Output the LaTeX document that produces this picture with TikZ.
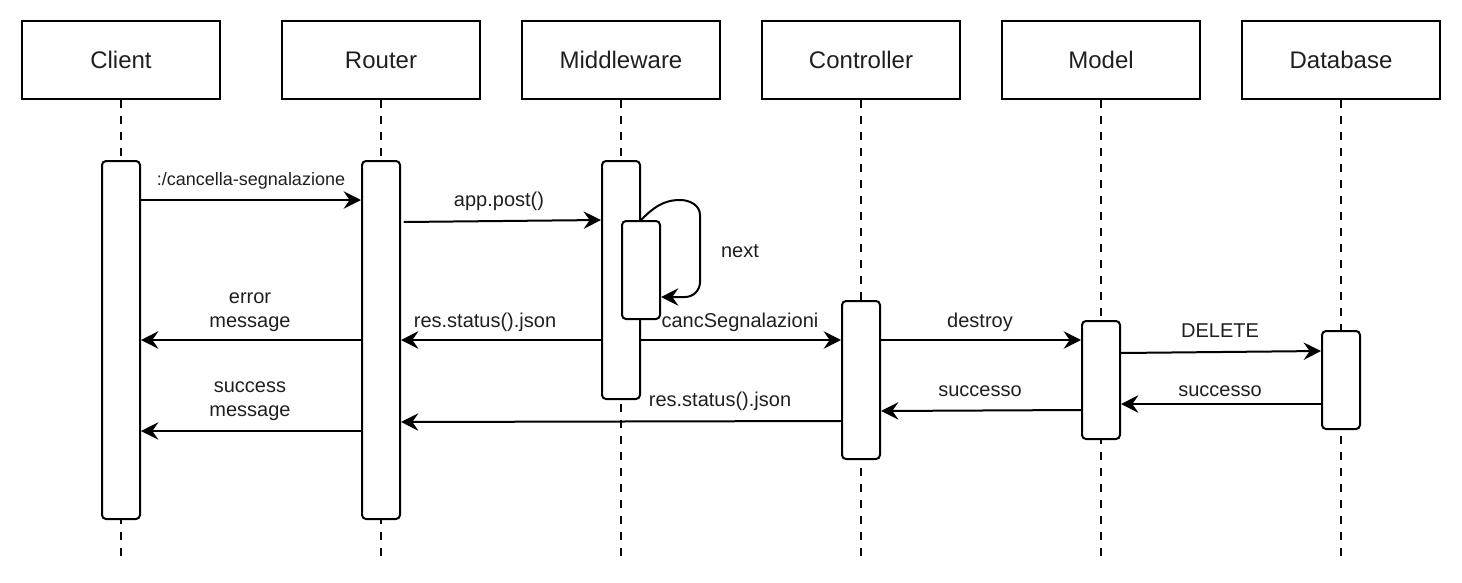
\documentclass[tikz,border=0pt]{standalone}
\usepackage{fontspec}
\setmainfont{Liberation Sans}
\usetikzlibrary{arrows.meta}

\begin{document}
\begin{tikzpicture}[
  x=0.75pt, y=-0.75pt,
  header/.style={draw, line width=1.5pt, minimum width=148pt, minimum height=58pt,
                 font=\fontsize{18}{21}\selectfont, text=black!88},
  life/.style={line width=1.5pt, dash pattern=on 6pt off 6pt},
  act/.style={draw, line width=1.5pt, rounded corners=3pt, fill=white,
              minimum width=28.5pt, inner sep=0pt},
  msg/.style={line width=1.5pt, -{Stealth[length=13pt,width=13pt,inset=4.5pt]}},
  lbl/.style={font=\fontsize{15}{18}\selectfont, align=center, inner sep=1pt, text=black!88},
  lblsmall/.style={font=\fontsize{13.5}{16}\selectfont, align=center, inner sep=1pt, text=black!88}
]
\useasboundingbox (0,0) rectangle (1462,582);

% participants
\node[header] (cH)  at (121,60)  {Client};
\node[header] (rH)  at (381,60)  {Router};
\node[header] (mH)  at (621,60)  {Middleware};
\node[header] (ctH) at (861,60)  {Controller};
\node[header] (moH) at (1101,60) {Model};
\node[header] (dH)  at (1341,60) {Database};

% lifelines
\foreach \h in {cH,rH,mH,ctH,moH,dH}
  \draw[life] (\h.south) -- (\h.south |- 0,560);

% activation bars
\node[act, minimum height=268.5pt] (cA)  at (121,340)  {};
\node[act, minimum height=268.5pt] (rA)  at (381,340)  {};
\node[act, minimum height=178.5pt] (mA)  at (621,280)  {};
\node[act, minimum height=73.5pt]  (nA)  at (641,270)  {};
\node[act, minimum height=118.5pt] (ctA) at (861,380)  {};
\node[act, minimum height=88.5pt]  (moA) at (1101,380) {};
\node[act, minimum height=73.5pt]  (dA)  at (1341,380) {};

% request path
\draw[msg] (cA.east |- 0,200) -- (rA.west |- 0,200);
\node[lblsmall] (l1) at (251,181) {:/cancella-segnalazione};

\draw[msg] ([xshift=2pt]rA.east |- 0,222) -- (mA.west |- 0,220);
\node[lbl] (l2) at (499,201) {app.post()};

% middleware self call
\draw[msg] (nA.north) to[out=45,in=180] (680,200) to[out=0,in=90] (700,215)
  -- (700,282) to[out=-90,in=0] (685,297) -- (nA.east |- 0,297);
\node[lbl] (l3) at (740,251) {next};

% error responses
\draw[msg] (rA.west |- 0,340) -- (cA.east |- 0,340);
\node[lbl] (l4) at (250,312) {error\\message};

\draw[msg] (mA.west |- 0,340) -- (rA.east |- 0,340);
\node[lbl] (l5) at (485,322) {res.status().json};

% forward to controller, model, database
\draw[msg] (mA.east |- 0,340) -- (ctA.west |- 0,340);
\node[lbl] (l6) at (740,322) {cancSegnalazioni};

\draw[msg] (ctA.east |- 0,340) -- (moA.west |- 0,340);
\node[lbl] (l7) at (980,322) {destroy};

\draw[msg] (moA.east |- 0,353) -- (dA.west |- 0,351);
\node[lbl] (l8) at (1220,331) {DELETE};

% success responses
\draw[msg] (dA.west |- 0,404) -- (moA.east |- 0,404);
\node[lbl] (l9) at (1220,391) {successo};

\draw[msg] (moA.west |- 0,410) -- (ctA.east |- 0,411);
\node[lbl] (l10) at (980,391) {successo};

\draw[msg] (ctA.west |- 0,421) -- (rA.east |- 0,422);
\node[lbl] (l11) at (720,401) {res.status().json};

\draw[msg] (rA.west |- 0,431) -- (cA.east |- 0,431);
\node[lbl] (l12) at (250,401) {success\\message};

\end{tikzpicture}
\end{document}
